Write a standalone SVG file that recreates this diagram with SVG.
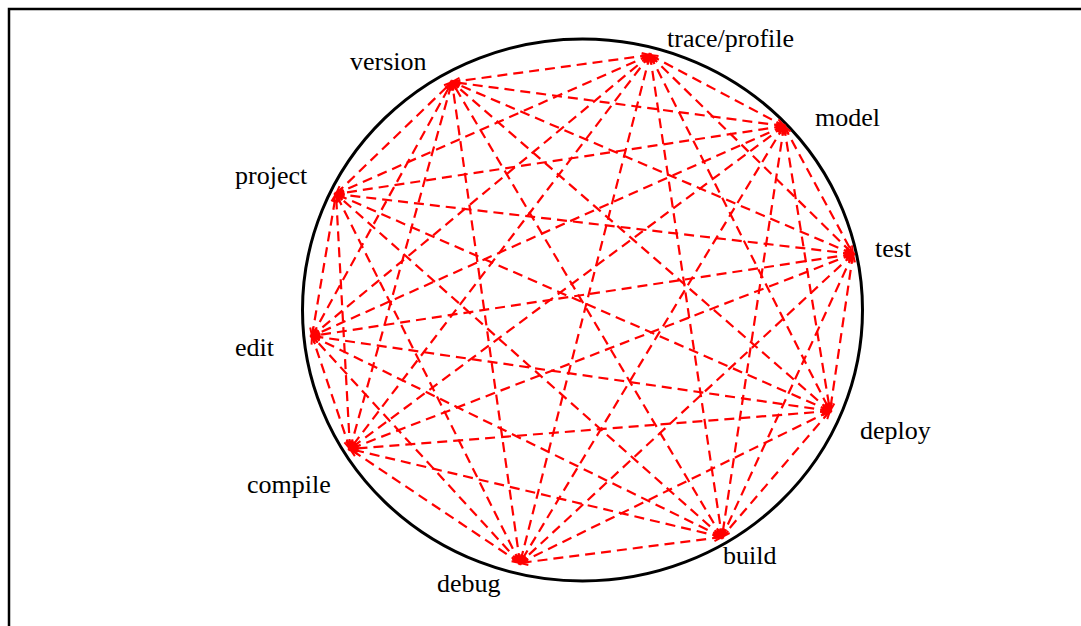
<svg xmlns="http://www.w3.org/2000/svg" width="1081" height="626" viewBox="0 0 1081 626">
  <style>
    .frame { fill: none; stroke: #000; stroke-width: 2.5; }
    .ring { fill: none; stroke: #000; stroke-width: 3; }
    .link { stroke: #ff0000; stroke-width: 2.2; stroke-dasharray: 10 6; fill: none;
            marker-start: url(#arrow); marker-end: url(#arrow); }
  </style>
  <defs>
    <marker id="arrow" markerUnits="userSpaceOnUse" markerWidth="14" markerHeight="14"
            refX="9" refY="4" orient="auto-start-reverse" overflow="visible">
      <path d="M1,0.8 L9,4 L1,7.2" fill="none" stroke="#ff0000" stroke-width="2" stroke-dasharray="none"/>
    </marker>
  </defs>

  <rect width="1081" height="626" fill="#fff"/>
  <!-- outer frame, only its top and left edges fall inside the canvas -->
  <rect class="frame" x="9" y="9" width="1200" height="800"/>

  <!-- boundary ring -->
  <ellipse class="ring" cx="582.5" cy="310" rx="280" ry="271"/>

  <!-- every tool is linked with every other tool -->
  <g id="connectors">
    <line class="link" x1="650" y1="55" x2="784" y2="126"/>
    <line class="link" x1="650" y1="55" x2="853" y2="254"/>
    <line class="link" x1="650" y1="55" x2="830" y2="411"/>
    <line class="link" x1="650" y1="55" x2="722" y2="537"/>
    <line class="link" x1="650" y1="55" x2="520" y2="563"/>
    <line class="link" x1="650" y1="55" x2="350" y2="449"/>
    <line class="link" x1="650" y1="55" x2="312" y2="336"/>
    <line class="link" x1="650" y1="55" x2="336" y2="194"/>
    <line class="link" x1="650" y1="55" x2="452" y2="82"/>

    <line class="link" x1="784" y1="126" x2="853" y2="254"/>
    <line class="link" x1="784" y1="126" x2="830" y2="411"/>
    <line class="link" x1="784" y1="126" x2="722" y2="537"/>
    <line class="link" x1="784" y1="126" x2="520" y2="563"/>
    <line class="link" x1="784" y1="126" x2="350" y2="449"/>
    <line class="link" x1="784" y1="126" x2="312" y2="336"/>
    <line class="link" x1="784" y1="126" x2="336" y2="194"/>
    <line class="link" x1="784" y1="126" x2="452" y2="82"/>

    <line class="link" x1="853" y1="254" x2="830" y2="411"/>
    <line class="link" x1="853" y1="254" x2="722" y2="537"/>
    <line class="link" x1="853" y1="254" x2="520" y2="563"/>
    <line class="link" x1="853" y1="254" x2="350" y2="449"/>
    <line class="link" x1="853" y1="254" x2="312" y2="336"/>
    <line class="link" x1="853" y1="254" x2="336" y2="194"/>
    <line class="link" x1="853" y1="254" x2="452" y2="82"/>

    <line class="link" x1="830" y1="411" x2="722" y2="537"/>
    <line class="link" x1="830" y1="411" x2="520" y2="563"/>
    <line class="link" x1="830" y1="411" x2="350" y2="449"/>
    <line class="link" x1="830" y1="411" x2="312" y2="336"/>
    <line class="link" x1="830" y1="411" x2="336" y2="194"/>
    <line class="link" x1="830" y1="411" x2="452" y2="82"/>

    <line class="link" x1="722" y1="537" x2="520" y2="563"/>
    <line class="link" x1="722" y1="537" x2="350" y2="449"/>
    <line class="link" x1="722" y1="537" x2="312" y2="336"/>
    <line class="link" x1="722" y1="537" x2="336" y2="194"/>
    <line class="link" x1="722" y1="537" x2="452" y2="82"/>

    <line class="link" x1="520" y1="563" x2="350" y2="449"/>
    <line class="link" x1="520" y1="563" x2="312" y2="336"/>
    <line class="link" x1="520" y1="563" x2="336" y2="194"/>
    <line class="link" x1="520" y1="563" x2="452" y2="82"/>

    <line class="link" x1="350" y1="449" x2="312" y2="336"/>
    <line class="link" x1="350" y1="449" x2="336" y2="194"/>
    <line class="link" x1="350" y1="449" x2="452" y2="82"/>

    <line class="link" x1="312" y1="336" x2="336" y2="194"/>
    <line class="link" x1="312" y1="336" x2="452" y2="82"/>

    <line class="link" x1="336" y1="194" x2="452" y2="82"/>
  </g>

  <g font-family="'Liberation Serif', 'DejaVu Serif', serif" font-size="26" fill="#000">
    <g id="trace-profile"><text x="667" y="47">trace/profile</text></g>
    <g id="model"><text x="815" y="126">model</text></g>
    <g id="test"><text x="875" y="257">test</text></g>
    <g id="deploy"><text x="860" y="439">deploy</text></g>
    <g id="build"><text x="723" y="564">build</text></g>
    <g id="debug"><text x="437" y="592">debug</text></g>
    <g id="compile"><text x="247" y="493">compile</text></g>
    <g id="edit"><text x="235" y="356">edit</text></g>
    <g id="project"><text x="235" y="184">project</text></g>
    <g id="version"><text x="350" y="70">version</text></g>
  </g>
</svg>
